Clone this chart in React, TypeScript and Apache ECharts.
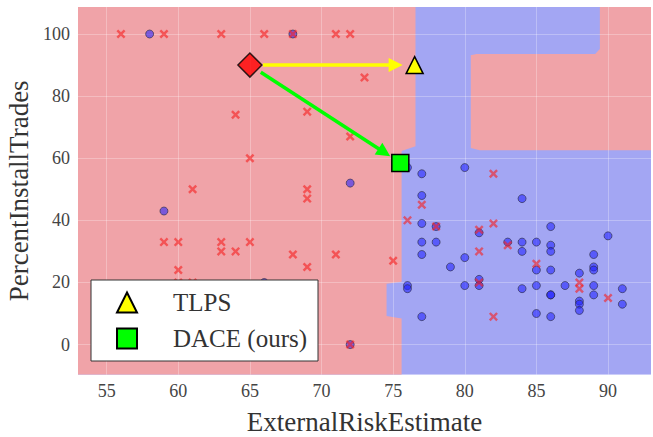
import React, { useEffect, useRef } from "react";
import * as echarts from "echarts";

// ---- data ----
const xRange = [53, 93];
const yRange = [-9.7, 108.7];

// class "bad" (red x)
const redPoints: number[][] = [
  [56, 100], [59, 100], [63, 100], [66, 100], [68, 100], [71, 100], [72, 100],
  [73, 86], [64, 74], [69, 75], [72, 67], [65, 60], [61, 50], [69, 50], [69, 47],
  [59, 33], [60, 33], [63, 33], [63, 30], [64, 30], [65, 33], [68, 29], [71, 29],
  [69, 25], [75, 27], [60, 24], [60, 20], [61, 20], [72, 0],
  [77, 45], [76, 40], [78, 38], [81, 37], [82, 39], [81, 30], [81, 20], [82, 9],
  [83, 32], [82, 55], [85, 26], [88, 20], [88, 18], [90, 15],
];

// class "good" (blue circles)
const bluePoints: number[][] = [
  [58, 100], [68, 100], [72, 52], [59, 43], [66, 20], [72, 0],
  [76, 57], [77, 55], [80, 57], [77, 48], [84, 47], [77, 39], [78, 38], [77, 33],
  [78, 33], [77, 29], [79, 25], [80, 28], [81, 36], [80, 19], [81, 21], [81, 19],
  [76, 19], [76, 18], [77, 9], [83, 33], [84, 33], [84, 30], [85, 33], [86, 38],
  [86, 32], [86, 30], [85, 24], [86, 24], [84, 18], [85, 19], [86, 16], [86, 16],
  [85, 10], [86, 9], [87, 19], [88, 23], [88, 14], [88, 13], [88, 11], [89, 29],
  [89, 25], [89, 24], [89, 19], [89, 16], [90, 35], [91, 18], [91, 13],
];

const factualPoint = [65, 90];
const tlpsPoint = [76.5, 90];
const dacePoint = [75.5, 58.5];

// decision regions predicted as "bad" (red); the rest is "good" (blue)
const redRegions: number[][][] = [
  [
    [53, 108.7], [76.56, 108.7], [76.56, 63.9], [75.59, 62.3], [75.59, 20.2],
    [74.54, 19.6], [74.54, 9.2], [75.59, 8.4], [75.59, -9.7], [53, -9.7],
  ],
  [
    [80.42, 63.3], [80.42, 93.2], [80.82, 93.6], [89.1, 93.6], [89.43, 95.2],
    [89.43, 108.7], [93, 108.7], [93, 62.6], [81.05, 62.6],
  ],
];

const SERIF = "'Liberation Serif', 'DejaVu Serif', serif";
const X_PATH =
  "path://M1.9,0L5,3.1L8.1,0L10,1.9L6.9,5L10,8.1L8.1,10L5,6.9L1.9,10L0,8.1L3.1,5L0,1.9Z";

export default function App() {
  const ref = useRef<HTMLDivElement>(null);

  useEffect(() => {
    if (!ref.current) return;
    const chart = echarts.init(ref.current, undefined, { renderer: "svg" });

    const option: any = {
      animation: false,
      backgroundColor: "#ffffff",
      grid: {
        left: 78,
        right: 2,
        top: 7,
        bottom: 62.3,
        containLabel: false,
        outerBoundsMode: "none",
      },
      xAxis: {
        type: "value",
        min: xRange[0],
        max: xRange[1],
        splitNumber: 8,
        name: "ExternalRiskEstimate",
        nameLocation: "middle",
        nameGap: 34,
        nameTextStyle: { fontFamily: SERIF, fontSize: 27, color: "#333" },
        axisLine: { show: false },
        axisTick: { show: false },
        axisLabel: {
          fontFamily: SERIF,
          fontSize: 18,
          color: "#444",
          margin: 7,
          showMinLabel: false,
          showMaxLabel: false,
        },
        splitLine: {
          show: true,
          showMinLine: false,
          showMaxLine: false,
          lineStyle: { color: "rgba(255,255,255,0.28)", width: 1 },
        },
      },
      yAxis: {
        type: "value",
        min: yRange[0],
        max: yRange[1],
        splitNumber: 6,
        name: "PercentInstallTrades",
        nameLocation: "middle",
        nameGap: 36,
        nameTextStyle: { fontFamily: SERIF, fontSize: 27, color: "#333" },
        axisLine: { show: false },
        axisTick: { show: false },
        axisLabel: {
          fontFamily: SERIF,
          fontSize: 18,
          color: "#444",
          margin: 8,
          showMinLabel: false,
          showMaxLabel: false,
        },
        splitLine: {
          show: true,
          showMinLine: false,
          showMaxLine: false,
          lineStyle: { color: "rgba(255,255,255,0.28)", width: 1 },
        },
      },
      legend: {
        data: ["TLPS", "DACE (ours)"],
        orient: "vertical",
        left: 91,
        top: 280,
        itemWidth: 20,
        itemHeight: 20,
        itemGap: 11,
        padding: [10, 11, 10, 25],
        backgroundColor: "#ffffff",
        borderColor: "#333",
        borderWidth: 1,
        borderRadius: 0,
        selectedMode: false,
        inactiveColor: "#00ff00",
        textStyle: {
          fontFamily: SERIF,
          fontSize: 25,
          color: "#333",
          padding: [0, 0, 0, 31],
        },
        z: 20,
      },
      series: [
        {
          type: "custom",
          name: "regions",
          z: -1,
          silent: true,
          clip: true,
          data: redRegions.map((_, i) => [i]),
          renderItem: (params: any, api: any) => {
            const poly = redRegions[params.dataIndex];
            const pts = poly.map((p) => api.coord(p));
            const children: any[] = [];
            if (params.dataIndex === 0) {
              const c = params.coordSys;
              children.push({
                type: "rect",
                shape: { x: c.x, y: c.y, width: c.width, height: c.height },
                style: { fill: "#a3a6f3" },
              });
            }
            children.push({
              type: "polygon",
              shape: { points: pts },
              style: { fill: "#f0a3a8" },
            });
            return { type: "group", children };
          },
        },
        {
          type: "scatter",
          name: "good",
          data: bluePoints,
          symbol: "circle",
          symbolSize: 8,
          itemStyle: {
            color: "rgba(30,30,255,0.7)",
            borderColor: "rgba(40,40,60,0.75)",
            borderWidth: 1,
          },
          emphasis: { disabled: true },
          silent: true,
          z: 2,
        },
        {
          type: "scatter",
          name: "bad",
          data: redPoints,
          symbol: X_PATH,
          symbolSize: 9,
          itemStyle: { color: "rgba(245,35,35,0.78)" },
          emphasis: { disabled: true },
          silent: true,
          z: 3,
        },
        {
          type: "custom",
          name: "arrows",
          z: 4,
          silent: true,
          data: [
            { value: [...factualPoint, ...tlpsPoint], itemStyle: { color: "#ffff00" } },
            { value: [...factualPoint, ...dacePoint], itemStyle: { color: "#00ff00" } },
          ],
          renderItem: (params: any, api: any) => {
            const a = api.coord([api.value(0), api.value(1)]);
            const b = api.coord([api.value(2), api.value(3)]);
            const dx = b[0] - a[0];
            const dy = b[1] - a[1];
            const len = Math.hypot(dx, dy) || 1;
            const ux = dx / len;
            const uy = dy / len;
            const s = [a[0] + ux * 13, a[1] + uy * 13];
            const tip = [b[0] - ux * 12, b[1] - uy * 12];
            const head = 14;
            const hw = 7;
            const base = [tip[0] - ux * head, tip[1] - uy * head];
            const color = api.visual("color");
            return {
              type: "group",
              children: [
                {
                  type: "line",
                  shape: { x1: s[0], y1: s[1], x2: base[0] + ux * 2, y2: base[1] + uy * 2 },
                  style: { stroke: color, lineWidth: 3.5 },
                },
                {
                  type: "polygon",
                  shape: {
                    points: [
                      tip,
                      [base[0] - uy * hw, base[1] + ux * hw],
                      [base[0] + uy * hw, base[1] - ux * hw],
                    ],
                  },
                  style: { fill: color },
                },
              ],
            };
          },
        },
        {
          type: "scatter",
          name: "Factual",
          data: [factualPoint],
          symbol: "diamond",
          symbolSize: [24, 24],
          itemStyle: { color: "#ff0000", borderColor: "#000", borderWidth: 1.5 },
          emphasis: { disabled: true },
          silent: true,
          z: 5,
        },
        {
          type: "scatter",
          name: "TLPS",
          data: [tlpsPoint],
          symbol: "triangle",
          symbolSize: 17,
          itemStyle: { color: "#ffff00", borderColor: "#000", borderWidth: 1.5, opacity: 1 },
          emphasis: { disabled: true },
          silent: true,
          z: 5,
        },
        {
          type: "scatter",
          name: "DACE (ours)",
          data: [dacePoint],
          symbol: "rect",
          symbolSize: 17,
          itemStyle: { color: "#00ff00", borderColor: "#000", borderWidth: 1.5, opacity: 1 },
          emphasis: { disabled: true },
          silent: true,
          z: 5,
        },
      ],
    };

    chart.setOption(option);
    return () => {
      chart.dispose();
    };
  }, []);

  return (
    <div
      ref={ref}
      style={{ position: "absolute", left: 0, top: 0, width: 653, height: 437 }}
    />
  );
}
